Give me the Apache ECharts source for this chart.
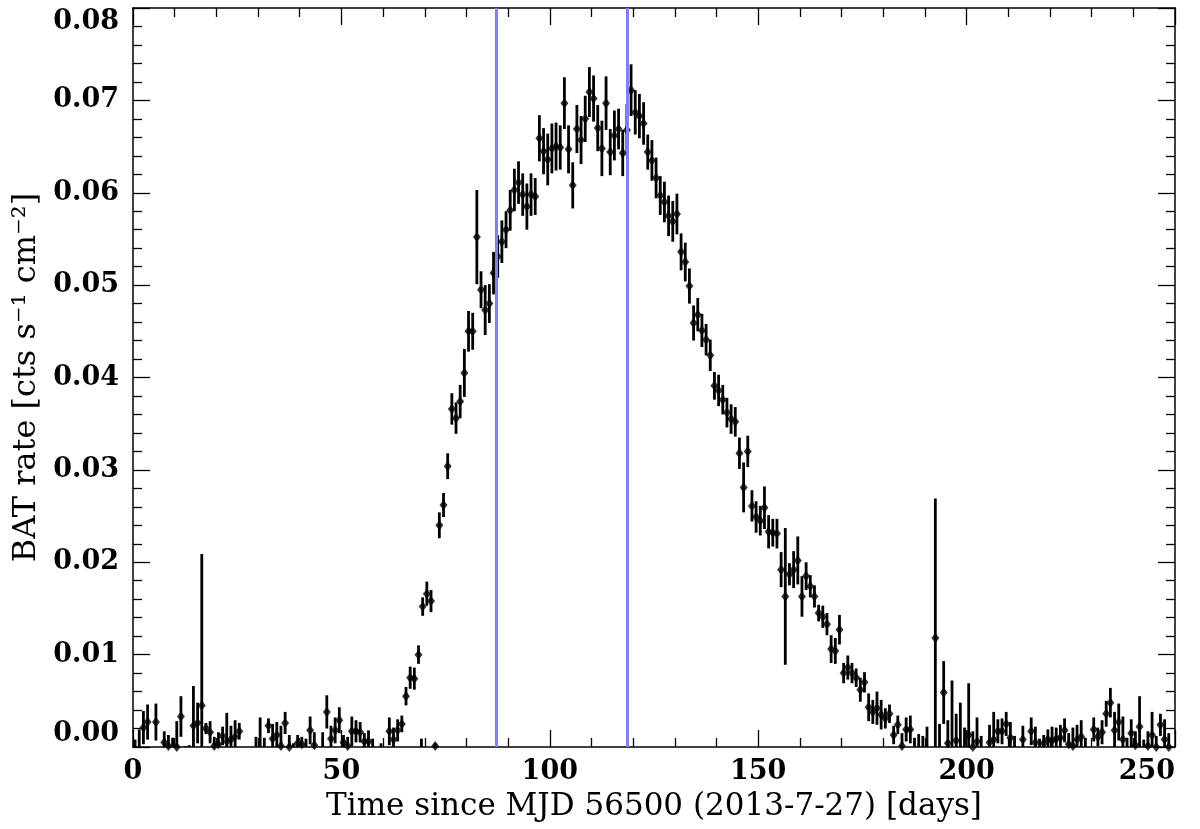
<!DOCTYPE html>
<html>
<head>
<meta charset="utf-8">
<script src="https://cdn.jsdelivr.net/npm/echarts@6/dist/echarts.min.js"></script>
<style>
html,body{margin:0;padding:0;background:#fff;}
#chart{width:1200px;height:829px;}
</style>
</head>
<body>
<div id="chart"></div>
<script>
// Time since MJD 56500 [days]
const days = [
  0.5, 1.5, 2.5, 3.5, 5.5, 7.5, 8.5, 9.5, 10.5, 11.5, 12.5, 13.5, 14.5, 15.5, 16.5, 17.5, 18.5, 19.5, 20.5,
  21.5, 22.5, 23.5, 24.5, 25.5, 29.5, 30.5, 31.5, 32.5, 33.5, 34.5, 35.5, 36.5, 37.5, 38.5, 39.5, 40.5,
  41.5, 42.5, 43.5, 45.5, 46.5, 47.5, 48.5, 49.5, 50.5, 51.5, 52.5, 53.5, 54.5, 55.5, 56.5, 57.5, 59.5,
  61.5, 62.5, 63.5, 64.5, 65.5, 66.5, 67.5, 68.5, 69.2, 69.5, 70.5, 71.5, 72.5, 73.5, 74.5, 75.5, 76.5,
  77.5, 78.5, 79.5, 80.5, 81.5, 82.5, 83.5, 84.5, 85.5, 86.5, 87.5, 88.5, 89.5, 90.5, 91.5, 92.5, 93.5,
  94.5, 95.5, 96.5, 97.5, 98.5, 99.5, 100.5, 101.5, 102.5, 103.5, 104.5, 105.5, 106.5, 107.5, 108.5,
  109.5, 110.5, 111.5, 112.5, 113.5, 114.5, 115.5, 116.5, 117.5, 118.5, 119.5, 120.5, 121.5, 122.5,
  123.5, 124.5, 125.5, 126.5, 127.5, 128.5, 129.5, 130.5, 131.5, 132.5, 133.5, 134.5, 135.5, 136.5,
  137.5, 138.5, 139.5, 140.5, 141.5, 142.5, 143.5, 144.5, 145.5, 146.5, 147.5, 148.5, 149.5, 150.5,
  151.5, 152.5, 153.5, 154.5, 155.5, 156.5, 157.5, 158.5, 159.5, 160.5, 161.5, 162.5, 163.5, 164.5,
  165.5, 166.5, 167.5, 168.5, 169.5, 170.5, 171.5, 172.5, 173.5, 174.5, 175.5, 176.5, 177.5, 178.5,
  179.5, 180.5, 181.5, 182.5, 183.5, 184.5, 185.5, 186.5, 187.5, 188.5, 189.5, 190.5, 192.5, 193.5,
  194.5, 195.5, 196.5, 197.5, 198.5, 199.5, 200.5, 201.5, 202.5, 203.5, 205.5, 206.5, 207.5, 208.5,
  209.5, 210.5, 211.5, 213.5, 215.5, 216.5, 217.5, 218.5, 219.5, 220.5, 221.5, 222.5, 223.5, 224.5,
  225.5, 226.5, 227.5, 228.5, 230.5, 231.5, 232.5, 233.5, 234.5, 235.5, 236.5, 237.5, 238.5, 239.5,
  240.5, 241.5, 242.5, 243.5, 244.5, 245.5, 246.5, 247.5, 248.5
];
// BAT rate [cts s^-1 cm^-2]
const rates = [
  -0.0005, -0.0004, 0.0021, 0.0027, 0.0027, 0.0005, 0.0001, -0.0002, 0.0000, 0.0033, -0.0010, -0.0010, 0.0023, 0.0026, 0.0045, 0.0020, 0.0016, 0.0001, 0.0003,
  0.0012, 0.0006, 0.0008, 0.0011, 0.0017, -0.0005, -0.0005, -0.0003, 0.0023, 0.0009, 0.0013, 0.0001, 0.0026, 0.0000, -0.0005, 0.0004, 0.0003,
  -0.0003, 0.0018, 0.0002, -0.0003, 0.0038, 0.0009, 0.0018, 0.0029, 0.0005, 0.0001, 0.0017, 0.0017, 0.0016, 0.0006, 0.0006, -0.0003, -0.0004,
  0.0017, 0.0008, 0.0018, 0.0025, 0.0055, 0.0075, 0.0074, 0.0100, -0.0005, 0.0152, 0.0166, 0.0158, 0.0001, 0.0240, 0.0262, 0.0304, 0.0366,
  0.0356, 0.0374, 0.0405, 0.0450, 0.0450, 0.0552, 0.0495, 0.0473, 0.0480, 0.0513, 0.0531, 0.0547, 0.0560, 0.0581, 0.0603, 0.0611, 0.0598,
  0.0585, 0.0598, 0.0596, 0.0659, 0.0645, 0.0636, 0.0648, 0.0650, 0.0649, 0.0697, 0.0647, 0.0608, 0.0669, 0.0657, 0.0680,
  0.0709, 0.0702, 0.0670, 0.0648, 0.0697, 0.0644, 0.0662, 0.0669, 0.0643, 0.0668, 0.0711, 0.0687, 0.0683, 0.0675,
  0.0644, 0.0635, 0.0616, 0.0597, 0.0590, 0.0575, 0.0569, 0.0577, 0.0536, 0.0525, 0.0499, 0.0459, 0.0468, 0.0451,
  0.0441, 0.0424, 0.0391, 0.0386, 0.0376, 0.0362, 0.0355, 0.0352, 0.0318, 0.0281, 0.0320, 0.0261, 0.0249, 0.0245,
  0.0259, 0.0233, 0.0232, 0.0231, 0.0192, 0.0163, 0.0187, 0.0192, 0.0202, 0.0163, 0.0185, 0.0174, 0.0163, 0.0145,
  0.0141, 0.0133, 0.0106, 0.0104, 0.0127, 0.0080, 0.0086, 0.0080, 0.0075, 0.0062, 0.0070, 0.0043, 0.0038, 0.0042,
  0.0035, 0.0031, 0.0036, 0.0013, 0.0024, 0.0001, 0.0019, 0.0019, -0.0003, -0.0003, -0.0004, -0.0003, 0.0118, -0.0005,
  0.0059, 0.0004, -0.0003, 0.0007, -0.0005, -0.0003, 0.0013, 0.0000, 0.0006, -0.0003, 0.0005, 0.0008, 0.0017, 0.0017,
  0.0025, 0.0010, -0.0002, 0.0008, 0.0017, 0.0005, -0.0002, 0.0004, 0.0008, 0.0007, 0.0009, 0.0010, 0.0018, 0.0003,
  0.0001, 0.0008, 0.0011, -0.0002, 0.0019, 0.0011, 0.0016, 0.0036, 0.0048, 0.0018, 0.0027, 0.0008, -0.0002, 0.0015,
  0.0002, 0.0022, -0.0003, 0.0001, 0.0013, 0.0000, 0.0024, 0.0008, 0.0000
];
// 1-sigma errors
const errors = [
  0.0013, 0.0023, 0.0018, 0.0019, 0.0020, 0.0012, 0.0012, 0.0012, 0.0028, 0.0022, 0.0011, 0.0012, 0.0043, 0.0022, 0.0164, 0.0006, 0.0012, 0.0010, 0.0013,
  0.0010, 0.0031, 0.0015, 0.0018, 0.0009, 0.0016, 0.0037, 0.0013, 0.0008, 0.0016, 0.0014, 0.0022, 0.0012, 0.0013, 0.0009, 0.0009, 0.0008,
  0.0012, 0.0015, 0.0014, 0.0019, 0.0018, 0.0014, 0.0014, 0.0014, 0.0008, 0.0010, 0.0016, 0.0012, 0.0011, 0.0009, 0.0012, 0.0012, 0.0008,
  0.0015, 0.0013, 0.0012, 0.0009, 0.0010, 0.0012, 0.0012, 0.0010, 0.0014, 0.0010, 0.0013, 0.0012, 0.0003, 0.0014, 0.0013, 0.0014, 0.0017,
  0.0017, 0.0018, 0.0026, 0.0022, 0.0020, 0.0051, 0.0020, 0.0027, 0.0021, 0.0023, 0.0023, 0.0023, 0.0020, 0.0022, 0.0023, 0.0023, 0.0023,
  0.0025, 0.0023, 0.0020, 0.0025, 0.0025, 0.0028, 0.0027, 0.0026, 0.0024, 0.0028, 0.0026, 0.0025, 0.0026, 0.0026, 0.0025,
  0.0027, 0.0025, 0.0025, 0.0030, 0.0029, 0.0025, 0.0027, 0.0022, 0.0025, 0.0028, 0.0028, 0.0024, 0.0024, 0.0023,
  0.0019, 0.0022, 0.0022, 0.0021, 0.0022, 0.0022, 0.0022, 0.0022, 0.0020, 0.0021, 0.0019, 0.0019, 0.0018, 0.0018,
  0.0017, 0.0017, 0.0015, 0.0017, 0.0016, 0.0016, 0.0016, 0.0016, 0.0017, 0.0027, 0.0017, 0.0017, 0.0017, 0.0016,
  0.0023, 0.0018, 0.0015, 0.0016, 0.0019, 0.0074, 0.0012, 0.0020, 0.0026, 0.0022, 0.0015, 0.0012, 0.0012, 0.0009,
  0.0012, 0.0012, 0.0015, 0.0014, 0.0016, 0.0011, 0.0013, 0.0011, 0.0010, 0.0013, 0.0011, 0.0015, 0.0013, 0.0018,
  0.0016, 0.0011, 0.0010, 0.0010, 0.0010, 0.0014, 0.0013, 0.0015, 0.0013, 0.0017, 0.0016, 0.0025, 0.0151, 0.0030,
  0.0034, 0.0025, 0.0075, 0.0029, 0.0053, 0.0024, 0.0056, 0.0017, 0.0026, 0.0015, 0.0019, 0.0030, 0.0013, 0.0014,
  0.0013, 0.0017, 0.0014, 0.0015, 0.0015, 0.0017, 0.0011, 0.0009, 0.0011, 0.0015, 0.0012, 0.0014, 0.0013, 0.0012,
  0.0020, 0.0016, 0.0018, 0.0012, 0.0013, 0.0010, 0.0013, 0.0014, 0.0016, 0.0020, 0.0020, 0.0025, 0.0012, 0.0015,
  0.0015, 0.0033, 0.0011, 0.0016, 0.0025, 0.0012, 0.0012, 0.0022, 0.0015
];
// Vertical reference lines [days]
const refLines = [87.2, 118.5];
const xTickLabels = [0, 50, 100, 150, 200, 250];
const yTickLabels = ['0.00','0.01','0.02','0.03','0.04','0.05','0.06','0.07','0.08'];

const points = days.map((d, i) => [d, rates[i], errors[i]]);

const chart = echarts.init(document.getElementById('chart'), null, {renderer: 'canvas'});
const serif = 'DejaVu Serif';
const tickCommon = {
  axisLine: {show: true, onZero: false, lineStyle: {color: '#000', width: 1.5}},
  axisTick: {show: true, inside: true, length: 17, lineStyle: {color: '#000', width: 1.3}},
  minorTick: {show: true, splitNumber: 5, length: 9, lineStyle: {color: '#000', width: 1.3}},
  splitLine: {show: false},
  minorSplitLine: {show: false}
};
const xBase = Object.assign({type: 'value', min: xTickLabels[0], max: xTickLabels[xTickLabels.length - 1], interval: 50}, tickCommon);
const yBase = Object.assign({type: 'value', min: 0, max: 0.08, interval: 0.01}, tickCommon);

chart.setOption({
  animation: false,
  backgroundColor: '#fff',
  grid: {left: 133, right: 25, top: 8, bottom: 82, containLabel: false},
  xAxis: [
    Object.assign({}, xBase, {
      position: 'bottom',
      name: 'Time since MJD 56500 (2013-7-27) [days]',
      nameLocation: 'middle',
      nameGap: 44,
      nameTextStyle: {fontFamily: serif, fontSize: 31, color: '#000'},
      axisLabel: {show: true, margin: 11, fontFamily: serif, fontWeight: 'bold', fontSize: 27, color: '#000',
        alignMaxLabel: 'right'}
    }),
    Object.assign({}, xBase, {position: 'top', axisLabel: {show: false}})
  ],
  yAxis: [
    Object.assign({}, yBase, {
      position: 'left',
      name: 'BAT rate [cts s\u207B\u00B9 cm\u207B\u00B2]',
      nameLocation: 'middle',
      nameGap: 90,
      nameRotate: 90,
      nameTextStyle: {fontFamily: serif, fontSize: 32, color: '#000'},
      axisLabel: {show: true, margin: 14, fontFamily: serif, fontWeight: 'bold', fontSize: 27, color: '#000',
        formatter: v => yTickLabels[Math.round(v / 0.01)] ?? v.toFixed(2),
        verticalAlignMinLabel: 'bottom', verticalAlignMaxLabel: 'top'}
    }),
    Object.assign({}, yBase, {position: 'right', axisLabel: {show: false}})
  ],
  series: [
    {
      type: 'line',
      data: [],
      xAxisIndex: 0, yAxisIndex: 0,
      z: 1,
      markLine: {
        silent: true,
        symbol: ['none', 'none'],
        label: {show: false},
        lineStyle: {color: '#7f7ff0', width: 3, type: 'solid'},
        data: refLines.map(x => ({xAxis: x}))
      }
    },
    {
      type: 'custom',
      xAxisIndex: 0, yAxisIndex: 0,
      clip: true,
      z: 2,
      data: points,
      renderItem: function (params, api) {
        const x = api.value(0), v = api.value(1), e = api.value(2);
        const p1 = api.coord([x, v - e]);
        const p2 = api.coord([x, v + e]);
        return {
          type: 'line',
          shape: {x1: p1[0], y1: p1[1], x2: p2[0], y2: p2[1]},
          style: {stroke: '#000', lineWidth: 2.8}
        };
      }
    },
    {
      type: 'scatter',
      xAxisIndex: 0, yAxisIndex: 0,
      clip: true,
      z: 3,
      symbol: 'diamond',
      symbolSize: [8, 10],
      itemStyle: {color: '#000'},
      data: points.map(p => [p[0], p[1]])
    }
  ]
});
</script>
</body>
</html>
